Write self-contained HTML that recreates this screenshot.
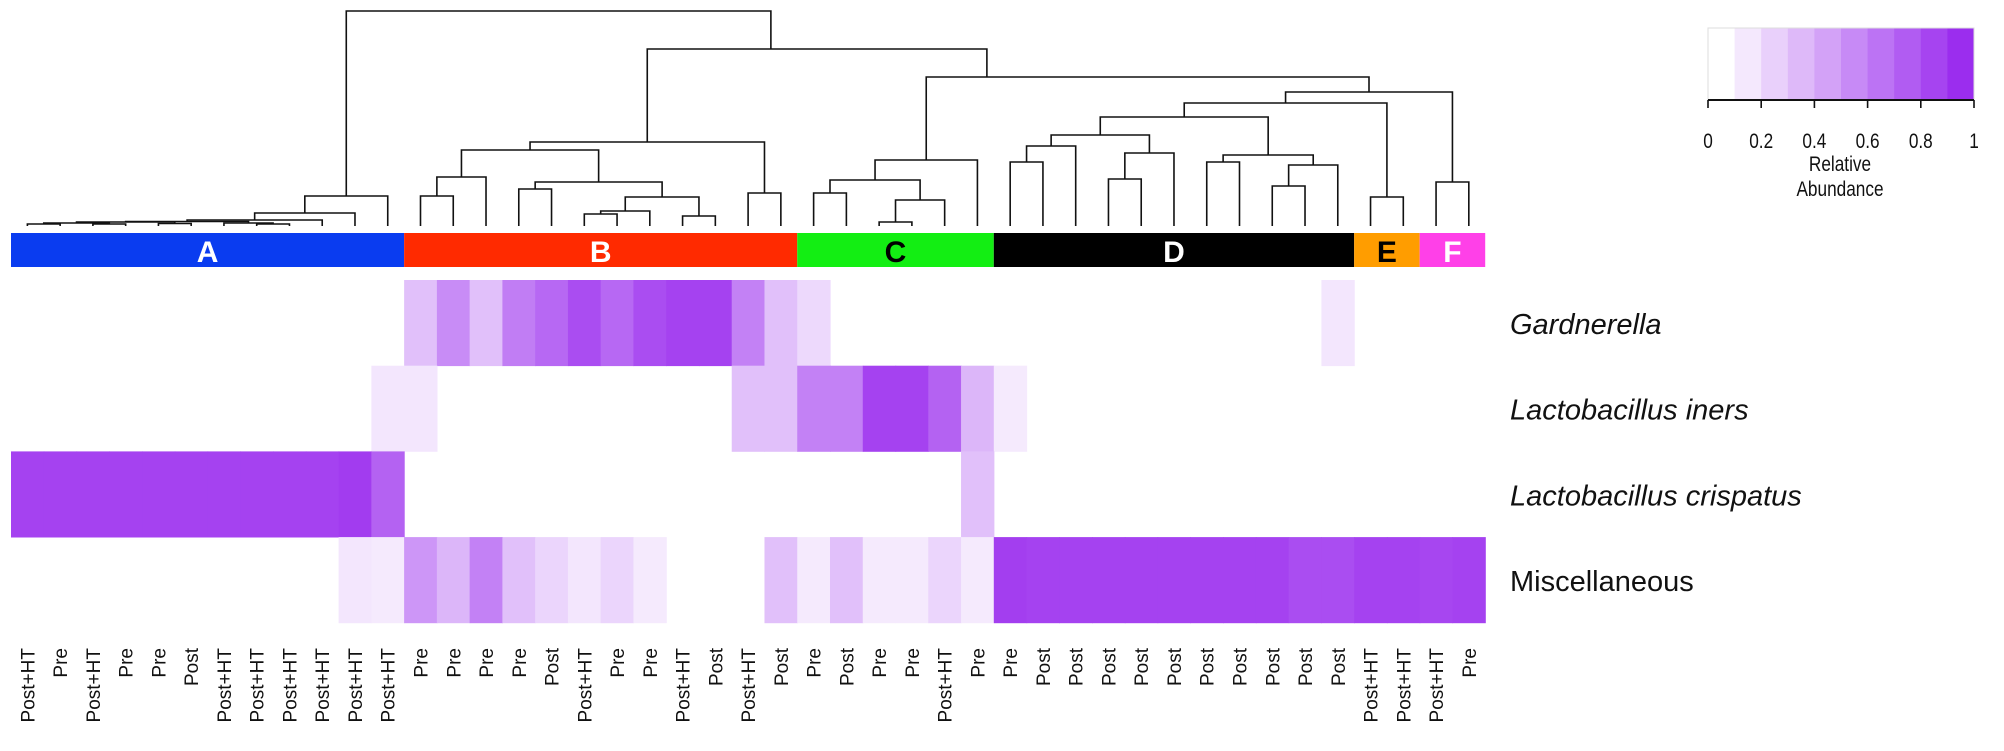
<!DOCTYPE html>
<html><head><meta charset="utf-8">
<style>
html,body{margin:0;padding:0;background:#fff;}
svg{display:block;font-family:"Liberation Sans",Arial,sans-serif;}
</style></head>
<body>
<svg id="chart" width="2004" height="751" viewBox="0 0 2004 751" xmlns="http://www.w3.org/2000/svg"></svg>
<script>
// ---- data ----
const taxa = ["Gardnerella","Lactobacillus iners","Lactobacillus crispatus","Miscellaneous"];
const taxaItalic = [true,true,true,false];
const sampleLabels = ["Post+HT","Pre","Post+HT","Pre","Pre","Post","Post+HT","Post+HT","Post+HT","Post+HT","Post+HT","Post+HT",
 "Pre","Pre","Pre","Pre","Post","Post+HT","Pre","Pre","Post+HT","Post","Post+HT","Post",
 "Pre","Post","Pre","Pre","Post+HT","Pre",
 "Pre","Post","Post","Post","Post","Post","Post","Post","Post","Post","Post",
 "Post+HT","Post+HT","Post+HT","Pre"];
const gardnerella = [0,0,0,0,0,0,0,0,0,0,0,0, 0.3,0.55,0.3,0.62,0.72,0.85,0.72,0.85,0.9,0.9,0.6,0.3, 0.18,0,0,0,0,0, 0,0,0,0,0,0,0,0,0,0,0.12, 0,0,0,0];
const iners = [0,0,0,0,0,0,0,0,0,0,0,0.12, 0.12,0,0,0,0,0,0,0,0,0,0.3,0.3, 0.6,0.6,0.9,0.9,0.75,0.35, 0.1,0,0,0,0,0,0,0,0,0,0, 0,0,0,0];
const crispatus = [0.9,0.9,0.9,0.9,0.9,0.9,0.9,0.9,0.9,0.9,0.93,0.75, 0,0,0,0,0,0,0,0,0,0,0,0, 0,0,0,0,0,0.3, 0,0,0,0,0,0,0,0,0,0,0, 0,0,0,0];
const misc = [0,0,0,0,0,0,0,0,0,0,0.12,0.1, 0.5,0.35,0.6,0.3,0.2,0.12,0.2,0.1,0,0,0,0.3, 0.1,0.3,0.1,0.1,0.2,0.1, 0.92,0.9,0.9,0.9,0.9,0.9,0.9,0.9,0.9,0.85,0.85, 0.9,0.9,0.88,0.9];
const groupNames = ["A","B","C","D","E","F"];
const groupStart = [0,12,24,30,41,43];
const groupEnd = [11,23,29,40,42,44];
const groupColors = ["#0a3cf0","#ff2a00","#13ee13","#000000","#ff9d00","#ff40e8"];
const groupTextColors = ["#fff","#fff","#000","#fff","#000","#fff"];
// dendrogram merges: [left, right, height, attachFraction]
const merges = [
 [0,1,2],[2,3,2],["m0","m1",3],[4,5,2.5],["m2","m3",4],[7,8,2],[6,"m5",3],["m4","m6",4.5],
 ["m7",9,6],["m8",10,13],["m9",11,30],
 [12,13,30],["m11",14,49],[15,16,37],[17,18,12],["m14",19,15],[20,21,10],["m15","m16",29],
 ["m13","m17",44],["m12","m18",76],[22,23,33],["m19","m20",84],
 [24,25,33],[26,27,4],["m23",28,26],["m22","m24",46],["m25",29,66],
 [30,31,64],["m27",32,80],[33,34,47],["m29",35,73],["m28","m30",91],[36,37,64],[38,39,40],
 ["m33",40,61],["m32","m34",71],["m31","m35",109],[41,42,29],["m36","m37",123],[43,44,44],
 ["m38","m39",134],["m26","m40",149,0.137],["m21","m41",177,0.364],["m10","m42",215]
];
const legendTicks = [0,0.2,0.4,0.6,0.8,1];
const legendTickLabels = ["0","0.2","0.4","0.6","0.8","1"];

// ---- layout ----
const svg = document.getElementById('chart');
const NS = "http://www.w3.org/2000/svg";
const X0 = 11, COLW = 32.76, ROW0 = 280, ROWH = 85.7, LEAFY = 226;
const colX = i => X0 + i*COLW;
const colC = i => X0 + (i+0.5)*COLW;
const rowY = r => ROW0 + r*ROWH;
const hY = h => LEAFY - h;
function color(v){
  const r = Math.round(255 - v*(255-155)), g = Math.round(255 - v*(255-45)), b = Math.round(255 - v*(255-238));
  return `rgb(${r},${g},${b})`;
}
function el(tag, attrs, parent){
  const e = document.createElementNS(NS, tag);
  for (const k in attrs) e.setAttribute(k, attrs[k]);
  (parent||svg).appendChild(e); return e;
}

// heatmap
const rows = [gardnerella, iners, crispatus, misc];
const hm = el('g', {});


rows.forEach((vals, r) => {
  vals.forEach((v, i) => {
    if (v <= 0) return;
    const c = el('rect', {x: colX(i), y: rowY(r), width: COLW+0.6, height: ROWH+0.4, fill: color(v)}, hm);
    
    
  });
});

// row labels
taxa.forEach((t, r) => {
  const tx = el('text', {x: 1510, y: rowY(r) + ROWH/2 + 11, 'font-size': 29, fill: '#111', 'font-style': taxaItalic[r] ? 'italic' : 'normal'});
  tx.textContent = t;
  
  
});

// sample labels
sampleLabels.forEach((s, i) => {
  const cx = colC(i) + 7;
  const tx = el('text', {x: cx, y: 648, 'font-size': 19, fill: '#111', 'text-anchor': 'end', transform: `rotate(-90 ${cx} 648)`});
  tx.textContent = s;
  
  
});

// group bar
groupNames.forEach((g, k) => {
  const x1 = colX(groupStart[k]), x2 = colX(groupEnd[k]+1);
  const r = el('rect', {x: x1, y: 233, width: x2-x1, height: 34, fill: groupColors[k]});
  
  
  const t = el('text', {x: (x1+x2)/2, y: 262, 'font-size': 30, 'font-weight': 'bold', fill: groupTextColors[k], 'text-anchor': 'middle'});
  t.textContent = g;
  
  
});

// dendrogram
const dg = el('g', {stroke: '#111', 'stroke-width': 1.6, fill: 'none'});


const nodeX = [], nodeH = [];
function childInfo(c){
  if (typeof c === 'number') return {x: colC(c), h: 0};
  const k = parseInt(c.slice(1)); return {x: nodeX[k], h: nodeH[k]};
}
merges.forEach((m, k) => {
  const a = childInfo(m[0]), b = childInfo(m[1]);
  const f = m.length > 3 ? m[3] : 0.5;
  const y = hY(m[2]);
  const p = el('path', {d: `M${a.x},${hY(a.h)}V${y}H${b.x}V${hY(b.h)}`}, dg);
  
  
  nodeX[k] = a.x + f*(b.x - a.x); nodeH[k] = m[2];
});

// legend
const lg = el('g', {});


const LX0 = 1708, LX1 = 1974, LY0 = 28, LY1 = 100, NSTEP = 10;
for (let k = 0; k < NSTEP; k++) {
  const w = (LX1-LX0)/NSTEP;
  const r = el('rect', {x: LX0 + k*w, y: LY0, width: w+0.5, height: LY1-LY0, fill: color(k/(NSTEP-1))}, lg);
  
  
}
el('rect', {x: LX0, y: LY0, width: LX1-LX0, height: LY1-LY0, fill: 'none', stroke: '#ddd', 'stroke-width': 1}, lg);
el('line', {x1: LX0, x2: LX1, y1: LY1, y2: LY1, stroke: '#111', 'stroke-width': 2}, lg);
legendTicks.forEach((v, i) => {
  const x = LX0 + v*(LX1-LX0);
  el('line', {x1: x, x2: x, y1: LY1, y2: LY1+8, stroke: '#111', 'stroke-width': 1.6}, lg);
  const t = el('text', {x: x, y: 148, 'font-size': 21, fill: '#111', 'text-anchor': 'middle', transform: `translate(${x} 0) scale(0.82 1) translate(${-x} 0)`}, lg);
  t.textContent = legendTickLabels[i];
  
  
});
['Relative','Abundance'].forEach((s, i) => {
  const t = el('text', {x: 1840, y: 171 + i*25, 'font-size': 21, fill: '#111', 'text-anchor': 'middle', transform: 'translate(1840 0) scale(0.82 1) translate(-1840 0)'}, lg);
  t.textContent = s;
  
  
});
</script>
</body></html>
